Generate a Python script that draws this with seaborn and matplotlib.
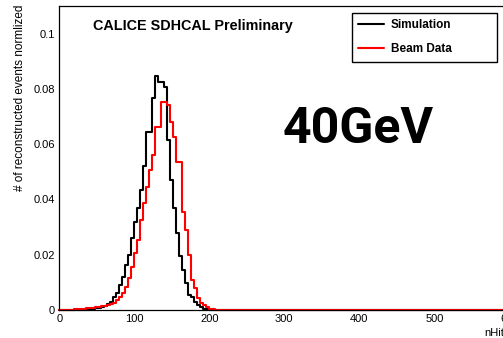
import numpy as np
import pandas as pd
import matplotlib
matplotlib.use("Agg")
import matplotlib.pyplot as plt
import seaborn as sns
from matplotlib.ticker import MultipleLocator, FuncFormatter

# ---- data: normalized nHit distributions, bins of width 4 on [0, 600) ----
bin_width = 4
x_range = (0, 600)

# Simulation: bin values starting at bin with lower edge 36
sim_first_edge = 36
sim_frac = [0.0001, 0.0002, 0.0004, 0.0006, 0.0008, 0.0010, 0.0014, 0.0020,
            0.0030, 0.0048, 0.0060, 0.0090, 0.0120, 0.0163, 0.0200, 0.0260,
            0.0320, 0.0368, 0.0434, 0.0520, 0.0645, 0.0645, 0.0766, 0.0846,
            0.0826, 0.0826, 0.0808, 0.0615, 0.0470, 0.0370, 0.0280, 0.0195,
            0.0145, 0.0098, 0.0054, 0.0046, 0.0030, 0.0018, 0.0010, 0.0005,
            0.0002, 0.0001]

# Beam data: bin values starting at bin with lower edge 12
data_first_edge = 12
data_frac = [0.0001, 0.0001, 0.0002, 0.0003, 0.0004, 0.0005, 0.0006, 0.0007,
             0.0008, 0.0010, 0.0011, 0.0013, 0.0016, 0.0018, 0.0021, 0.0024,
             0.0036, 0.0046, 0.0060, 0.0084, 0.0115, 0.0157, 0.0205, 0.0253,
             0.0325, 0.0386, 0.0446, 0.0506, 0.0561, 0.0663, 0.0663, 0.0753,
             0.0753, 0.0740, 0.0680, 0.0627, 0.0536, 0.0536, 0.0355, 0.0289,
             0.0199, 0.0108, 0.0078, 0.0042, 0.0024, 0.0018, 0.0012, 0.0004,
             0.0002, 0.0001]

series_labels = ["Simulation", "Beam Data"]
x_ticks = [0, 100, 200, 300, 400, 500, 600]
y_ticks = [0, 0.02, 0.04, 0.06, 0.08, 0.1]

sim_df = pd.DataFrame({
    "nHits": sim_first_edge + bin_width * (np.arange(len(sim_frac)) + 0.5),
    "w": sim_frac})
data_df = pd.DataFrame({
    "nHits": data_first_edge + bin_width * (np.arange(len(data_frac)) + 0.5),
    "w": data_frac})

sns.set_style("white")
plt.rcParams["font.family"] = ["Liberation Sans", "DejaVu Sans"]
plt.rcParams["text.color"] = "black"
plt.rcParams["axes.labelcolor"] = "black"
plt.rcParams["xtick.color"] = "black"
plt.rcParams["ytick.color"] = "black"

W, H = 503, 338
fig = plt.figure(figsize=(W / 100, H / 100), dpi=100)
ax = fig.add_axes([59.3 / W, 28 / H, 450 / W, 304 / H])

sns.histplot(data=sim_df, x="nHits", weights="w", binwidth=bin_width,
             binrange=x_range, element="step", fill=False, color="black",
             linewidth=1.5, ax=ax, label=series_labels[0])
sns.histplot(data=data_df, x="nHits", weights="w", binwidth=bin_width,
             binrange=x_range, element="step", fill=False, color="red",
             linewidth=1.5, ax=ax, label=series_labels[1])
for ln in ax.lines:
    ln.set_clip_on(False)

ax.set_xlim(*x_range)
ax.set_ylim(0, 0.11)
ax.set_xticks(x_ticks)
ax.set_yticks(y_ticks)
ax.xaxis.set_minor_locator(MultipleLocator(20))
ax.yaxis.set_minor_locator(MultipleLocator(0.004))
ax.yaxis.set_major_formatter(FuncFormatter(lambda v, p: "%g" % v))
ax.tick_params(axis="both", which="both", direction="in", width=0.8,
               color="black", labelsize=8, labelcolor="black",
               top=False, right=False)
ax.tick_params(axis="y", which="major", length=9, pad=3)
ax.tick_params(axis="y", which="minor", length=4.5)
ax.tick_params(axis="x", which="major", length=6, pad=3)
ax.tick_params(axis="x", which="minor", length=3.5)
for s in ["left", "top", "bottom"]:
    ax.spines[s].set_color("black")
    ax.spines[s].set_linewidth(0.9)
ax.spines["right"].set_visible(False)

ax.set_ylabel("")
ax.set_xlabel("nHits", loc="right", fontsize=8, labelpad=3, color="black")

fig.text(20 / W, 1 - 5 / H, "# of reconstructed events normlized",
         rotation=90, ha="center", va="top", fontsize=8.5, color="black")
fig.text(93.3 / W, 1 - 25.7 / H, "CALICE SDHCAL Preliminary",
         fontweight="bold", fontsize=10.4, ha="left", va="center",
         color="black")
fig.text(358 / W, 1 - 143 / H, "40GeV", fontsize=36, fontweight="bold",
         family=["Roboto", "DejaVu Sans"], ha="center", va="baseline",
         color="black")

leg = ax.legend(loc="upper left",
                bbox_to_anchor=(351.7 / W, 1 - 13 / H, 145.3 / W, 0),
                bbox_transform=fig.transFigure, mode="expand",
                frameon=True, fancybox=False, edgecolor="black", framealpha=1,
                borderpad=0.55, labelspacing=1.0, handlelength=2.2,
                handletextpad=0.55, borderaxespad=0,
                prop={"weight": "bold", "size": 8.5})
leg.get_frame().set_linewidth(1.0)
for t in leg.get_texts():
    t.set_color("black")

fig.savefig("out.png", dpi=100)
